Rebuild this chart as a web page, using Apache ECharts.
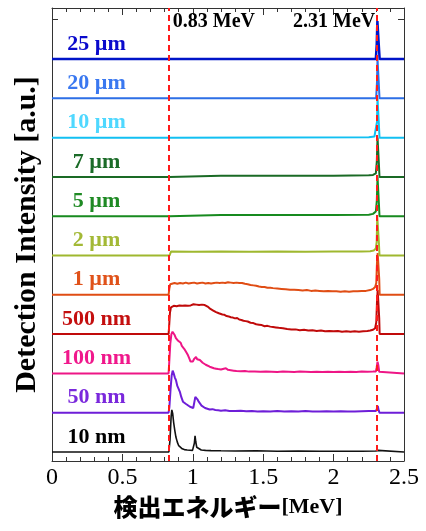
<!DOCTYPE html>
<html>
<head>
<meta charset="utf-8">
<script src="https://cdn.jsdelivr.net/npm/echarts@6/dist/echarts.min.js"></script>
<style>html,body{margin:0;padding:0;background:#fff;}#c{width:426px;height:531px;}</style>
</head>
<body>
<div id="c"></div>
<script>
// ---------------- DATA ----------------
const seriesNames = ['10 nm','50 nm','100 nm','500 nm','1 µm','2 µm','5 µm','7 µm','10 µm','20 µm','25 µm'];
const xTickLabels = ['0','0.5','1','1.5','2','2.5'];
const markEnergies = [0.83, 2.31];
const markTexts = ['0.83 MeV', '2.31 MeV'];

// [energy (MeV), intensity (a.u., one trace spacing = 1)]
const s10nm = [[0,0],[0.83,0],[0.838,0.3],[0.846,0.9],[0.851,1.07],[0.857,0.98],[0.864,0.75],[0.872,0.55],[0.88,0.38],[0.89,0.25],[0.9,0.16],[0.912,0.11],[0.925,0.08],[0.94,0.06],[0.96,0.05],[0.98,0.045],[0.998,0.04],[1.006,0.07],[1.011,0.22],[1.016,0.41],[1.021,0.26],[1.028,0.12],[1.04,0.07],[1.06,0.05],[1.09,0.04],[1.13,0.035],[1.2,0.03],[1.3,0.025],[1.45,0.03],[1.6,0.02],[1.75,0.025],[1.9,0.02],[2.05,0.02],[2.2,0.02],[2.3,0.025],[2.315,0.04],[2.325,0],[2.5,0]];
const s50nm = [[0,0],[0.828,0],[0.834,0.15],[0.842,0.6],[0.85,0.95],[0.857,1.07],[0.864,1.0],[0.872,0.9],[0.881,0.82],[0.89,0.68],[0.9,0.6],[0.909,0.52],[0.918,0.4],[0.93,0.28],[0.94,0.25],[0.952,0.22],[0.965,0.18],[0.98,0.15],[0.993,0.1],[1.003,0.12],[1.01,0.25],[1.018,0.4],[1.025,0.42],[1.033,0.34],[1.042,0.28],[1.051,0.24],[1.062,0.18],[1.075,0.15],[1.087,0.12],[1.1,0.1],[1.12,0.08],[1.14,0.09],[1.16,0.07],[1.18,0.06],[1.2,0.05],[1.23,0.06],[1.26,0.045],[1.3,0.04],[1.34,0.05],[1.38,0.035],[1.42,0.04],[1.46,0.03],[1.5,0.035],[1.55,0.03],[1.6,0.04],[1.65,0.03],[1.7,0.035],[1.75,0.03],[1.8,0.04],[1.85,0.03],[1.9,0.03],[1.95,0.035],[2.0,0.03],[2.05,0.035],[2.1,0.03],[2.15,0.03],[2.2,0.035],[2.25,0.04],[2.3,0.04],[2.308,0.1],[2.314,0.17],[2.32,0.06],[2.326,0],[2.5,0]];
const s100nm = [[0,0],[0.828,0],[0.833,0.3],[0.84,0.75],[0.848,1.0],[0.856,1.06],[0.864,1.04],[0.872,0.97],[0.88,0.9],[0.888,0.88],[0.896,0.83],[0.905,0.8],[0.914,0.78],[0.922,0.7],[0.93,0.66],[0.94,0.62],[0.948,0.58],[0.957,0.52],[0.966,0.46],[0.975,0.38],[0.984,0.3],[0.993,0.26],[1.0,0.3],[1.008,0.36],[1.016,0.4],[1.023,0.42],[1.031,0.36],[1.04,0.38],[1.05,0.34],[1.06,0.3],[1.07,0.27],[1.08,0.24],[1.092,0.22],[1.105,0.2],[1.12,0.17],[1.135,0.15],[1.15,0.13],[1.165,0.12],[1.18,0.11],[1.2,0.1],[1.22,0.12],[1.235,0.13],[1.25,0.09],[1.27,0.08],[1.29,0.07],[1.31,0.06],[1.34,0.055],[1.37,0.06],[1.4,0.045],[1.44,0.05],[1.48,0.04],[1.52,0.045],[1.56,0.04],[1.6,0.035],[1.64,0.045],[1.68,0.04],[1.72,0.035],[1.76,0.045],[1.8,0.04],[1.84,0.035],[1.88,0.04],[1.92,0.035],[1.96,0.04],[2.0,0.035],[2.04,0.04],[2.08,0.035],[2.12,0.04],[2.16,0.035],[2.2,0.045],[2.24,0.04],[2.28,0.045],[2.3,0.05],[2.306,0.15],[2.312,0.3],[2.318,0.2],[2.324,0.04],[2.33,0],[2.5,0]];
const s500nm = [[0,0],[0.828,0],[0.832,0.2],[0.838,0.55],[0.845,0.68],[0.855,0.7],[0.865,0.72],[0.875,0.69],[0.885,0.71],[0.895,0.7],[0.905,0.73],[0.915,0.71],[0.925,0.72],[0.935,0.7],[0.945,0.73],[0.955,0.74],[0.965,0.72],[0.975,0.75],[0.985,0.73],[0.995,0.74],[1.005,0.76],[1.015,0.73],[1.025,0.75],[1.035,0.77],[1.045,0.74],[1.055,0.76],[1.065,0.75],[1.075,0.77],[1.085,0.74],[1.095,0.72],[1.105,0.7],[1.115,0.66],[1.125,0.64],[1.135,0.62],[1.145,0.6],[1.155,0.58],[1.165,0.56],[1.175,0.57],[1.185,0.53],[1.195,0.54],[1.21,0.5],[1.225,0.49],[1.24,0.46],[1.255,0.45],[1.27,0.43],[1.285,0.42],[1.3,0.4],[1.315,0.41],[1.33,0.37],[1.345,0.36],[1.36,0.34],[1.375,0.33],[1.39,0.32],[1.41,0.29],[1.43,0.28],[1.45,0.25],[1.47,0.24],[1.49,0.23],[1.51,0.2],[1.53,0.21],[1.55,0.19],[1.57,0.18],[1.59,0.17],[1.61,0.16],[1.64,0.15],[1.67,0.13],[1.7,0.12],[1.73,0.12],[1.76,0.1],[1.79,0.11],[1.82,0.09],[1.85,0.1],[1.88,0.08],[1.91,0.09],[1.94,0.07],[1.97,0.08],[2.0,0.07],[2.03,0.08],[2.06,0.06],[2.09,0.07],[2.12,0.06],[2.15,0.07],[2.18,0.06],[2.21,0.07],[2.24,0.08],[2.26,0.09],[2.28,0.11],[2.295,0.15],[2.303,0.3],[2.308,0.8],[2.313,1.12],[2.32,1.1],[2.324,0.4],[2.327,0],[2.5,0]];
const s1um = [[0,0],[0.828,0],[0.833,0.15],[0.84,0.27],[0.85,0.29],[0.87,0.3],[0.89,0.28],[0.91,0.3],[0.93,0.29],[0.95,0.31],[0.97,0.29],[0.99,0.3],[1.01,0.31],[1.03,0.29],[1.05,0.3],[1.07,0.31],[1.09,0.29],[1.11,0.3],[1.13,0.29],[1.15,0.3],[1.17,0.31],[1.19,0.3],[1.21,0.31],[1.23,0.3],[1.25,0.32],[1.27,0.31],[1.29,0.3],[1.31,0.31],[1.33,0.3],[1.35,0.3],[1.37,0.28],[1.39,0.27],[1.41,0.25],[1.43,0.24],[1.45,0.23],[1.47,0.21],[1.49,0.2],[1.51,0.2],[1.53,0.18],[1.55,0.18],[1.57,0.17],[1.6,0.16],[1.63,0.15],[1.66,0.14],[1.69,0.13],[1.72,0.13],[1.75,0.12],[1.78,0.11],[1.81,0.12],[1.84,0.1],[1.87,0.11],[1.9,0.1],[1.93,0.09],[1.96,0.1],[1.99,0.09],[2.02,0.09],[2.05,0.08],[2.08,0.09],[2.11,0.08],[2.14,0.09],[2.17,0.09],[2.2,0.1],[2.23,0.1],[2.26,0.12],[2.28,0.15],[2.295,0.2],[2.303,0.3],[2.308,0.8],[2.313,1.06],[2.32,1.04],[2.324,0.4],[2.327,0],[2.5,0]];
const s2um = [[0,0],[0.835,0],[0.845,0.1],[1.0,0.095],[1.2,0.1],[1.4,0.095],[1.6,0.1],[1.8,0.095],[2.0,0.1],[2.2,0.105],[2.26,0.11],[2.285,0.13],[2.3,0.18],[2.306,0.35],[2.31,1.0],[2.318,1.0],[2.322,0.3],[2.326,0],[2.5,0]];
const s5um = [[0,0],[0.835,0],[0.845,0.03],[1.2,0.03],[1.6,0.03],[2.0,0.03],[2.25,0.04],[2.28,0.06],[2.3,0.12],[2.307,0.4],[2.312,1.0],[2.318,1.0],[2.322,0.3],[2.326,0],[2.5,0]];
const s7um = [[0,0],[0.835,0],[0.845,0.03],[1.2,0.03],[1.6,0.03],[2.0,0.03],[2.25,0.04],[2.28,0.05],[2.3,0.09],[2.307,0.4],[2.312,1.0],[2.318,1.0],[2.322,0.3],[2.326,0],[2.5,0]];
const s10um = [[0,0],[0.835,0],[0.845,0.01],[2.25,0.01],[2.29,0.03],[2.302,0.05],[2.308,0.4],[2.312,1.0],[2.318,1.0],[2.322,0.3],[2.326,0],[2.5,0]];
const s20um = [[0,0],[2.302,0],[2.308,0.4],[2.312,1.0],[2.318,1.0],[2.322,0.3],[2.326,0],[2.5,0]];
const s25um = [[0,0],[2.3,0],[2.306,0.35],[2.311,0.97],[2.316,0.99],[2.321,0.35],[2.327,0],[2.5,0]];

const traces = [s10nm, s50nm, s100nm, s500nm, s1um, s2um, s5um, s7um, s10um, s20um, s25um];

// ---------------- STYLE ----------------
const lineColors = ['#111111','#6e1ed8','#ee1686','#c00a0a','#e04d14','#9fb82f','#178a1f','#1a6a25','#12c0f2','#2d6fe6','#0014c8'];
const labelColors = ['#000000','#7a28dc','#f0188c','#c40f0f','#e0521a','#a3b936','#1f8a24','#1b6b28','#4fd8ff','#3a78f0','#0a0acc'];
const base0 = 0.23;          // first trace baseline offset
const labelE = 0.316;        // series label horizontal position (MeV)
const annoY = 11.17;         // annotation text vertical position
const serif = 'Liberation Serif';
const axisCol = '#333';

const chart = echarts.init(document.getElementById('c'), null, {renderer: 'canvas'});

const series = traces.map((tr, i) => {
  const off = base0 + i;
  return {
    type: 'line',
    name: seriesNames[i],
    data: tr.map(p => [p[0], p[1] + off]),
    showSymbol: false,
    symbol: 'none',
    lineStyle: {color: lineColors[i], width: i === 10 ? 2.5 : (i === 0 ? 1.6 : 2)},
    z: 2 + i,
    markPoint: {
      symbol: 'circle', symbolSize: 0,
      itemStyle: {color: 'rgba(0,0,0,0)'},
      data: [{
        coord: [labelE, off],
        label: {
          show: true, position: 'inside', offset: [0, -15],
          formatter: seriesNames[i],
          color: labelColors[i], fontFamily: serif, fontWeight: 'bold', fontSize: 22
        }
      }]
    }
  };
});

// annotations and dashed lines
series[0].markLine = {
  silent: true, symbol: 'none', z: 20,
  label: {show: false},
  lineStyle: {color: '#ff1a1a', type: [6, 4], width: 2},
  data: markEnergies.map(e => ({xAxis: e}))
};
series[0].markPoint.data.push(
  {coord: [markEnergies[0], annoY], label: {show: true, position: 'inside', align: 'left', offset: [4, 0],
    formatter: markTexts[0], color: '#000', fontFamily: serif, fontWeight: 'bold', fontSize: 20}},
  {coord: [markEnergies[1], annoY], label: {show: true, position: 'inside', align: 'right', offset: [-2, 0],
    formatter: markTexts[1], color: '#000', fontFamily: serif, fontWeight: 'bold', fontSize: 20}}
);

const xCommon = {
  type: 'value', min: 0, max: 2.5, interval: 0.5,
  axisLine: {show: true, onZero: false, lineStyle: {color: axisCol, width: 1}},
  axisTick: {show: true, inside: true, length: 7, lineStyle: {color: axisCol}},
  minorTick: {show: true, splitNumber: 5, length: 4, lineStyle: {color: axisCol}},
  splitLine: {show: false}, minorSplitLine: {show: false}
};
const yCommon = {
  type: 'value', min: 0, max: 11.53, interval: 11.25,
  axisLine: {show: true, onZero: false, lineStyle: {color: axisCol, width: 1}},
  axisTick: {show: true, inside: true, length: 6, lineStyle: {color: axisCol}},
  axisLabel: {show: false},
  splitLine: {show: false}
};

chart.setOption({
  animation: false,
  backgroundColor: '#fff',
  grid: {left: 52, right: 22, top: 8, bottom: 70, containLabel: false},
  xAxis: [
    Object.assign({}, xCommon, {
      position: 'bottom',
      axisLabel: {show: true, margin: 5, fontFamily: serif, fontSize: 24, color: '#000',
        formatter: v => xTickLabels[Math.round(v / 0.5)]},
      name: '{jp|検出エネルギー}{en|[MeV]}',
      nameLocation: 'middle', nameGap: 34,
      nameTextStyle: {
        rich: {
          jp: {fontFamily: 'Noto Sans CJK JP', fontWeight: 900, fontSize: 24, color: '#000'},
          en: {fontFamily: serif, fontWeight: 'bold', fontSize: 22, color: '#000'}
        }
      }
    }),
    Object.assign({}, xCommon, {position: 'top', axisLabel: {show: false}})
  ],
  yAxis: [
    Object.assign({}, yCommon, {
      position: 'left',
      name: 'Detection Intensity [a.u.]',
      nameLocation: 'middle', nameGap: 10,
      nameTextStyle: {fontFamily: serif, fontWeight: 'bold', fontSize: 30, color: '#000'}
    }),
    Object.assign({}, yCommon, {position: 'right'})
  ],
  series: series
});
</script>
</body>
</html>
